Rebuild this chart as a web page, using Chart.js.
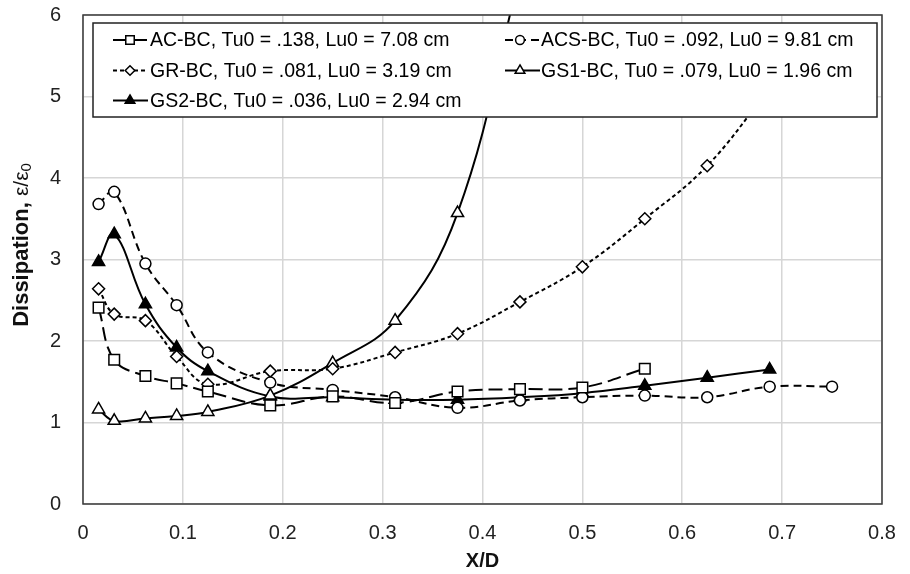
<!DOCTYPE html>
<html>
<head>
<meta charset="utf-8">
<script src="https://cdn.jsdelivr.net/npm/chart.js@4.4.0/dist/chart.umd.min.js"></script>
<style>
  html, body { margin: 0; padding: 0; background: #fff; }
  #wrap { width: 910px; height: 574px; }
</style>
</head>
<body>
<div id="wrap"><canvas id="myChart" width="910" height="574"></canvas></div>
<script>
// x positions (X/D) of the measuring stations
const xStations = [0.0156, 0.03125, 0.0625, 0.09375, 0.125, 0.1875, 0.25, 0.3125, 0.375, 0.4375, 0.5, 0.5625, 0.625, 0.6875, 0.75];

// dissipation, eps/eps0
const acBC  = [2.41, 1.77, 1.57, 1.48, 1.38, 1.21, 1.32, 1.24, 1.38, 1.41, 1.43, 1.66];
const acsBC = [3.68, 3.83, 2.95, 2.44, 1.86, 1.49, 1.40, 1.31, 1.18, 1.27, 1.31, 1.33, 1.31, 1.44, 1.44];
const grBC  = [2.64, 2.33, 2.25, 1.81, 1.47, 1.63, 1.66, 1.86, 2.09, 2.48, 2.91, 3.50, 4.15, 5.10];
const gs1BC = [1.16, 1.02, 1.05, 1.08, 1.13, 1.33, 1.73, 2.25, 3.57, 6.50];
const gs2BC = [2.97, 3.31, 2.45, 1.92, 1.63, 1.32, 1.31, 1.28, 1.28, 1.31, 1.36, 1.45, 1.55, 1.65];

const seriesLabels = [
  'AC-BC, Tu0 = .138, Lu0 = 7.08 cm',
  'ACS-BC, Tu0 = .092, Lu0 = 9.81 cm',
  'GR-BC, Tu0 = .081, Lu0 = 3.19 cm',
  'GS1-BC, Tu0 = .079, Lu0 = 1.96 cm',
  'GS2-BC, Tu0 = .036, Lu0 = 2.94 cm'
];

const xTicks = [0, 0.1, 0.2, 0.3, 0.4, 0.5, 0.6, 0.7, 0.8];
const yTicks = [0, 1, 2, 3, 4, 5, 6];

const FONT = '"Liberation Sans", Arial, sans-serif';

function toPoints(vals) {
  return vals.map((v, i) => ({x: xStations[i], y: v}));
}

function series(label, vals, style, radius, dash, fill) {
  return {
    label: label,
    data: toPoints(vals),
    showLine: true,
    borderColor: '#000',
    borderWidth: 2,
    borderDash: dash,
    pointStyle: style,
    pointRadius: radius,
    pointBorderWidth: 1.5,
    pointBorderColor: '#000',
    pointBackgroundColor: fill,
    tension: 0.4,
    clip: 0
  };
}

// legend box drawn inside the plot, two columns
const insideLegend = {
  id: 'insideLegend',
  afterDatasetsDraw(chart) {
    const ctx = chart.ctx;
    const box = {x: 93, y: 23, w: 784, h: 94};
    ctx.save();
    ctx.fillStyle = '#fff';
    ctx.fillRect(box.x, box.y, box.w, box.h);
    ctx.strokeStyle = '#222';
    ctx.lineWidth = 1.5;
    ctx.strokeRect(box.x, box.y, box.w, box.h);

    const slots = [
      {lx: 113, mx: 130, tx: 150, y: 40},
      {lx: 505, mx: 520, tx: 541, y: 40},
      {lx: 113, mx: 130, tx: 150, y: 70.5},
      {lx: 505, mx: 520, tx: 541, y: 70.5},
      {lx: 113, mx: 130, tx: 150, y: 100.5}
    ];
    chart.data.datasets.forEach((ds, i) => {
      const s = slots[i];
      ctx.strokeStyle = '#000';
      ctx.lineWidth = 2;
      ctx.setLineDash(ds.borderDash || []);
      ctx.beginPath();
      ctx.moveTo(s.lx, s.y);
      ctx.lineTo(s.lx + 35, s.y);
      ctx.stroke();
      ctx.setLineDash([]);
      ctx.fillStyle = ds.pointBackgroundColor;
      ctx.lineWidth = 1.5;
      Chart.helpers.drawPoint(ctx, {
        pointStyle: ds.pointStyle,
        radius: ds.pointRadius * 0.8,
        rotation: 0,
        borderWidth: 1.5
      }, s.mx, s.y);
      ctx.fillStyle = '#000';
      ctx.font = '19.5px ' + FONT;
      ctx.textBaseline = 'middle';
      ctx.textAlign = 'left';
      ctx.fillText(ds.label, s.tx, s.y + 1);
    });
    ctx.restore();
  },
  afterDraw(chart) {
    const ctx = chart.ctx;
    const a = chart.chartArea;
    ctx.save();
    // plot frame
    ctx.strokeStyle = '#3a3a3a';
    ctx.lineWidth = 1.5;
    ctx.strokeRect(a.left, a.top, a.right - a.left, a.bottom - a.top);

    // y axis title with subscript
    const cy = 245;
    ctx.translate(22, cy);
    ctx.rotate(-Math.PI / 2);
    ctx.fillStyle = '#111';
    ctx.textBaseline = 'middle';
    ctx.textAlign = 'left';
    const p1 = 'Dissipation, ';
    const p2 = 'ε/ε';
    const p3 = '0';
    ctx.font = 'bold 22px ' + FONT;
    const w1 = ctx.measureText(p1).width;
    ctx.font = '21px ' + FONT;
    const w2 = ctx.measureText(p2).width;
    ctx.font = '15px ' + FONT;
    const w3 = ctx.measureText(p3).width;
    let x0 = -(w1 + w2 + w3) / 2;
    ctx.font = 'bold 22px ' + FONT;
    ctx.fillText(p1, x0, 0);
    ctx.font = '21px ' + FONT;
    ctx.fillText(p2, x0 + w1, 0);
    ctx.font = '15px ' + FONT;
    ctx.fillText(p3, x0 + w1 + w2, 5);
    ctx.restore();
  }
};

const canvas = document.getElementById('myChart');
new Chart(canvas.getContext('2d'), {
  type: 'scatter',
  data: {
    datasets: [
      series(seriesLabels[0], acBC, 'rect', 7.5, [14, 6], '#fff'),
      series(seriesLabels[1], acsBC, 'circle', 5.5, [8, 5], '#fff'),
      series(seriesLabels[2], grBC, 'rectRot', 6, [4, 3], '#fff'),
      series(seriesLabels[3], gs1BC, 'triangle', 7, [], '#fff'),
      series(seriesLabels[4], gs2BC, 'triangle', 7, [], '#000')
    ]
  },
  options: {
    responsive: false,
    animation: false,
    devicePixelRatio: 1,
    layout: {padding: {left: 0, right: 28, top: 15, bottom: 0}},
    elements: {line: {capBezierPoints: false}},
    plugins: {legend: {display: false}, tooltip: {enabled: false}},
    scales: {
      x: {
        type: 'linear',
        min: xTicks[0],
        max: xTicks[xTicks.length - 1],
        afterBuildTicks(scale) { scale.ticks = xTicks.map(v => ({value: v})); },
        afterFit(scale) {
          scale.height = 70;
          scale.paddingLeft = 0;
          scale.paddingRight = 0;
        },
        ticks: {
          padding: 17,
          color: '#222',
          font: {family: FONT, size: 20},
          callback: v => String(Math.round(v * 10) / 10)
        },
        grid: {color: '#d6d6d6', lineWidth: 1.5, drawTicks: false},
        border: {display: false},
        title: {
          display: true,
          text: 'X/D',
          color: '#111',
          font: {family: FONT, size: 20, weight: 'bold'},
          padding: {top: 0, bottom: 1}
        }
      },
      y: {
        min: yTicks[0],
        max: yTicks[yTicks.length - 1],
        afterBuildTicks(scale) { scale.ticks = yTicks.map(v => ({value: v})); },
        afterFit(scale) {
          scale.width = 83;
          scale.paddingTop = 0;
          scale.paddingBottom = 0;
        },
        ticks: {
          padding: 22,
          color: '#222',
          font: {family: FONT, size: 20}
        },
        grid: {color: '#d6d6d6', lineWidth: 1.5, drawTicks: false},
        border: {display: false}
      }
    }
  },
  plugins: [insideLegend]
});
</script>
</body>
</html>
